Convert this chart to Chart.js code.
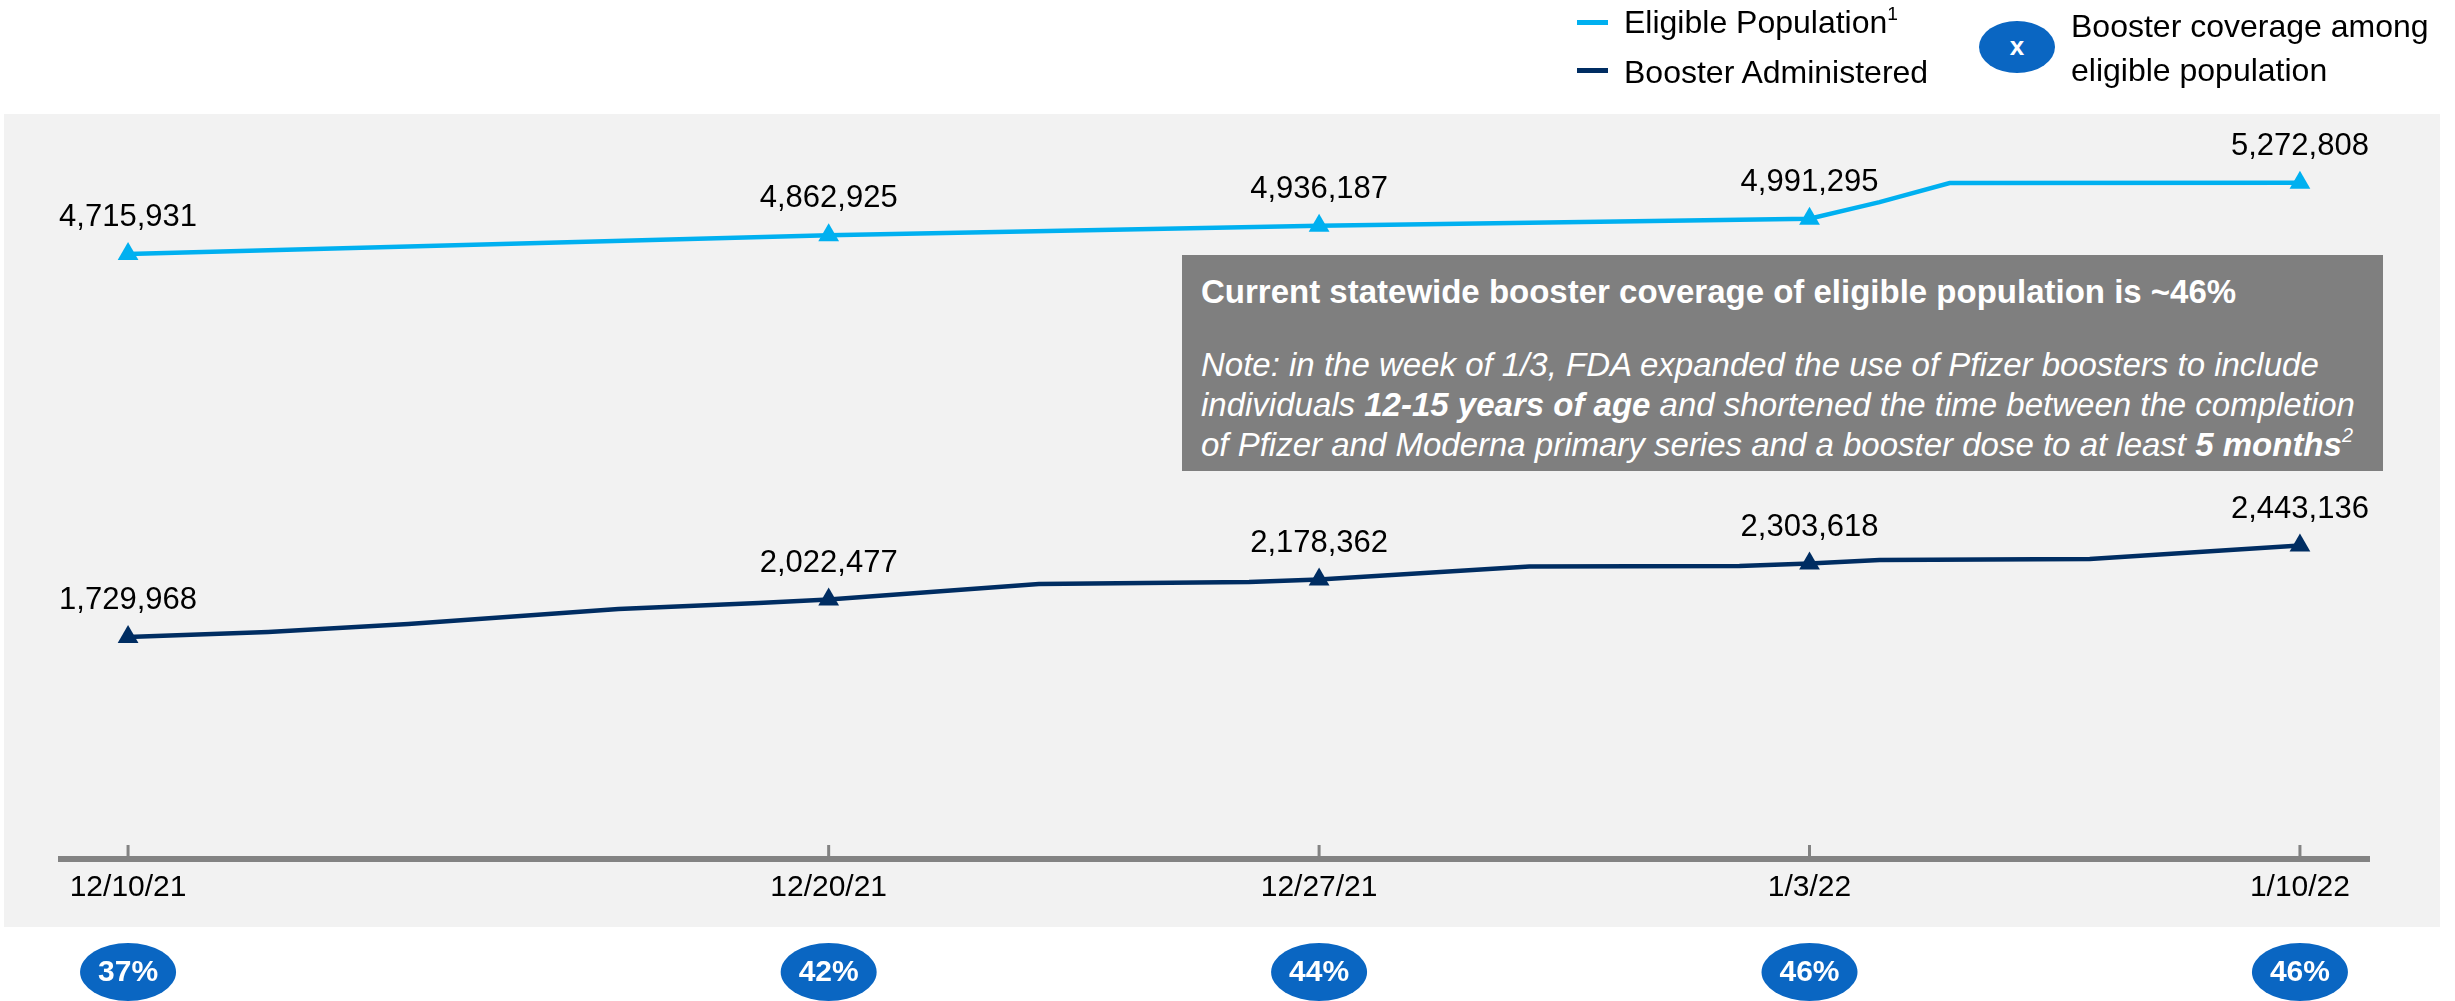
<!DOCTYPE html>
<html>
<head>
<meta charset="utf-8">
<script src="https://cdn.jsdelivr.net/npm/chart.js@4.4.1/dist/chart.umd.min.js"></script>
<style>
  body { margin: 0; background: #fff; font-family: "Liberation Sans", Arial, sans-serif; }
  #wrap { position: relative; width: 2455px; height: 1001px; overflow: hidden; }
  #bg { position: absolute; left: 4px; top: 114px; width: 2436px; height: 813px; background: #f2f2f2; }
  canvas { position: absolute; left: 0; top: 0; }
  .abs { position: absolute; white-space: nowrap; color: #000; }
  .dash { position: absolute; width: 31px; height: 5px; }
  sup { font-size: 0.6em; line-height: 0; vertical-align: 0.7em; }
  #note { position: absolute; left: 1182px; top: 255px; width: 1201px; height: 216px; background: #7f7f7f;
          color: #fff; box-sizing: border-box; padding-left: 19px; font-size: 33px; }
  #note .title { font-weight: bold; line-height: 40px; margin-top: 17px; white-space: nowrap; }
  #note .text { font-style: italic; line-height: 40px; margin-top: 33px; white-space: nowrap; }
</style>
</head>
<body>
<div id="wrap">
  <div id="bg"></div>
  <canvas id="boosterChart" width="2455" height="1001"></canvas>

  <div class="dash" style="left:1577px; top:20px; background:#00b0f0;"></div>
  <div class="abs" style="left:1624px; top:4px; font-size:32px; line-height:36px;">Eligible Population<sup>1</sup></div>
  <div class="dash" style="left:1577px; top:68px; background:#002d62;"></div>
  <div class="abs" style="left:1624px; top:54px; font-size:32px; line-height:36px;">Booster Administered</div>
  <div class="abs" style="left:1979px; top:21px; width:76px; height:52px; border-radius:50%; background:#0a66c2; color:#fff; font-weight:bold; font-size:26px; line-height:50px; text-align:center;">x</div>
  <div class="abs" style="left:2071px; top:4px; font-size:32px; line-height:44px;">Booster coverage among<br>eligible population</div>

  <div id="note">
    <div class="title">Current statewide booster coverage of eligible population is ~46%</div>
    <div class="text">Note: in the week of 1/3, FDA expanded the use of Pfizer boosters to include<br>individuals <b>12-15 years of age</b> and shortened the time between the completion<br>of Pfizer and Moderna primary series and a booster dose to at least <b>5 months</b><sup>2</sup></div>
  </div>
</div>

<script>
// days counted from 12/10/21
const tickDays = [0, 10, 17, 24, 31];
const tickLabels = ['12/10/21', '12/20/21', '12/27/21', '1/3/22', '1/10/22'];
const coverage = ['37%', '42%', '44%', '46%', '46%'];

const eligibleDays = [0, 10, 17, 24, 25, 26, 31];
const eligibleValues = [4715931, 4862925, 4936187, 4991295, 5121000, 5270000, 5272808];

const boosterDays = [0, 2, 4, 7, 9, 10, 13, 16, 17, 20, 23, 24, 25, 28, 31];
const boosterValues = [1729968, 1769000, 1832000, 1949000, 1995000, 2022477, 2143000, 2159000,
                       2178362, 2280000, 2285000, 2303618, 2330000, 2338000, 2443136];

const FONT = '"Liberation Sans", Arial, sans-serif';

function toPoints(days, values) {
    return days.map((d, i) => ({ x: d, y: values[i] }));
}

function markerRadius(days) {
    return days.map(d => tickDays.includes(d) ? 12 : 0);
}

// axis line, upward ticks, value labels and coverage bubbles
const extrasPlugin = {
    id: 'extras',
    beforeDatasetsDraw(chart) {
        const ctx = chart.ctx;
        const area = chart.chartArea;
        const xScale = chart.scales.x;
        ctx.save();
        ctx.strokeStyle = '#838383';
        ctx.lineWidth = 6;
        ctx.beginPath();
        ctx.moveTo(area.left, area.bottom);
        ctx.lineTo(area.right, area.bottom);
        ctx.stroke();
        ctx.lineWidth = 3;
        tickDays.forEach(d => {
            const x = xScale.getPixelForValue(d);
            ctx.beginPath();
            ctx.moveTo(x, area.bottom);
            ctx.lineTo(x, area.bottom - 14);
            ctx.stroke();
        });
        ctx.restore();
    },
    afterDatasetsDraw(chart) {
        const ctx = chart.ctx;
        ctx.save();
        ctx.fillStyle = '#000';
        ctx.font = '31px ' + FONT;
        ctx.textAlign = 'center';
        ctx.textBaseline = 'alphabetic';
        chart.data.datasets.forEach((ds, i) => {
            const meta = chart.getDatasetMeta(i);
            meta.data.forEach((pt, j) => {
                if (!tickDays.includes(ds.data[j].x)) return;
                ctx.fillText(ds.data[j].y.toLocaleString('en-US'), pt.x, pt.y - 28);
            });
        });

        const xScale = chart.scales.x;
        tickDays.forEach((d, i) => {
            const x = xScale.getPixelForValue(d);
            ctx.fillStyle = '#0a66c2';
            ctx.beginPath();
            ctx.ellipse(x, 972, 48, 29, 0, 0, Math.PI * 2);
            ctx.fill();
            ctx.fillStyle = '#fff';
            ctx.font = 'bold 30px ' + FONT;
            ctx.textBaseline = 'middle';
            ctx.fillText(coverage[i], x, 973);
        });
        ctx.restore();
    }
};

const ctx = document.getElementById('boosterChart').getContext('2d');
const boosterChart = new Chart(ctx, {
    type: 'line',
    data: {
        datasets: [{
            label: 'Eligible Population',
            data: toPoints(eligibleDays, eligibleValues),
            borderColor: '#00b0f0',
            backgroundColor: '#00b0f0',
            borderWidth: 4.5,
            pointStyle: 'triangle',
            pointRadius: markerRadius(eligibleDays),
            pointBorderWidth: 0,
            tension: 0
        }, {
            label: 'Booster Administered',
            data: toPoints(boosterDays, boosterValues),
            borderColor: '#002d62',
            backgroundColor: '#002d62',
            borderWidth: 4.5,
            pointStyle: 'triangle',
            pointRadius: markerRadius(boosterDays),
            pointBorderWidth: 0,
            tension: 0
        }]
    },
    options: {
        responsive: false,
        animation: false,
        devicePixelRatio: 1,
        layout: { padding: { left: 58, right: 85, top: 115, bottom: 0 } },
        plugins: { legend: { display: false }, tooltip: { enabled: false } },
        scales: {
            x: {
                type: 'linear',
                min: -1,
                max: 32,
                grid: { display: false },
                border: { display: false },
                afterBuildTicks: scale => { scale.ticks = tickDays.map(v => ({ value: v })); },
                afterFit: scale => { scale.height = 142; },
                ticks: {
                    color: '#000',
                    font: { family: FONT, size: 30 },
                    padding: 3,
                    maxRotation: 0,
                    autoSkip: false,
                    callback: value => tickLabels[tickDays.indexOf(value)]
                }
            },
            y: {
                display: false,
                min: 0,
                max: 5800000
            }
        }
    },
    plugins: [extrasPlugin]
});
</script>
</body>
</html>
